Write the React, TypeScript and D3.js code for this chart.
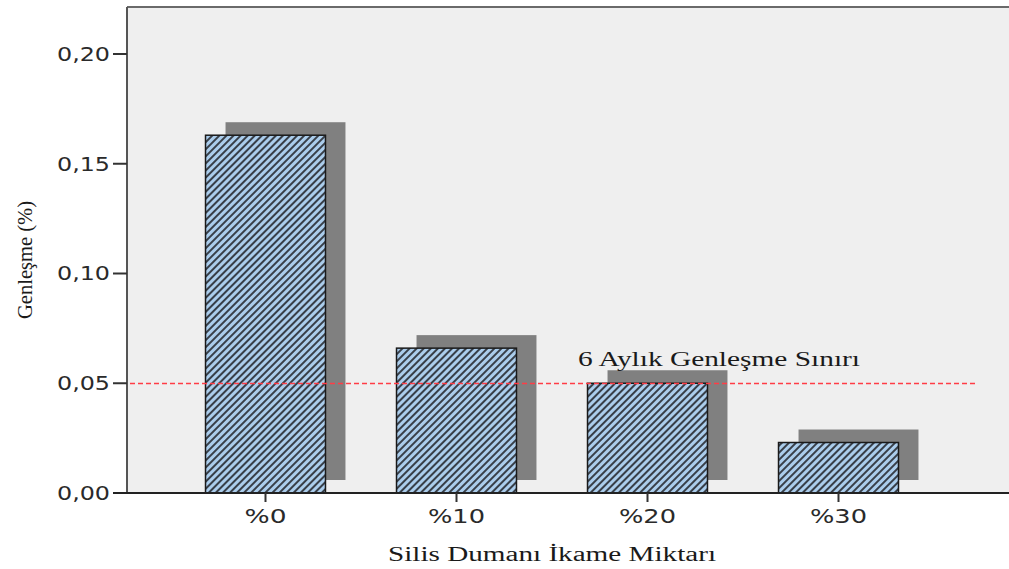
import React from "react";
import * as d3 from "d3";

// Replacement level of silica fume and measured expansion
const categories: string[] = ["%0", "%10", "%20", "%30"];
const expansion: number[] = [0.163, 0.066, 0.05, 0.023];
const yTicks: number[] = [0, 0.05, 0.1, 0.15, 0.2];
const limitValue = 0.05;
const limitLabel = "6 Aylık Genleşme Sınırı";
const xTitle = "Silis Dumanı İkame Miktarı";
const yTitle = "Genleşme (%)";

const W = 1009;
const H = 569;
const plotLeft = 127;
const plotTop = 7;
const plotBottom = 493;
const plotRight = W;

const x = d3.scaleBand<string>().domain(categories).range([170, 934]).paddingInner(0.372).paddingOuter(0.186);
const y = d3.scaleLinear().domain([0, 0.2]).range([plotBottom, 54]);
const fmt = (v: number) => d3.format(".2f")(v).replace(".", ",");

const shadowDx = 20;
const shadowDy = -13;

export default function App() {
  const limitY = Math.round(y(limitValue)) + 0.5;
  return (
    <svg width={W} height={H} style={{ position: "absolute", left: 0, top: 0, background: "#fff" }}>
      <defs>
        <pattern id="hatch" width={5} height={5} patternUnits="userSpaceOnUse" patternTransform="rotate(45)">
          <rect width={5} height={5} fill="#abcdec" />
          <line x1={1} y1={0} x2={1} y2={5} stroke="#2b2f36" strokeWidth={1.8} />
        </pattern>
      </defs>
      {/* plot background */}
      <rect x={plotLeft} y={plotTop} width={plotRight - plotLeft} height={plotBottom - plotTop} fill="#efefef" />
      <line x1={plotLeft} y1={plotTop} x2={plotRight} y2={plotTop} stroke="#6a6a6a" strokeWidth={2} />

      {/* shadows */}
      {categories.map((c, i) => (
        <rect
          key={"s" + c}
          x={(x(c) ?? 0) + shadowDx}
          y={y(expansion[i]) + shadowDy}
          width={x.bandwidth()}
          height={plotBottom - y(expansion[i])}
          fill="#808080"
        />
      ))}
      {/* bars */}
      {categories.map((c, i) => (
        <rect
          key={"b" + c}
          x={x(c) ?? 0}
          y={y(expansion[i])}
          width={x.bandwidth()}
          height={plotBottom - y(expansion[i])}
          fill="url(#hatch)"
          stroke="#1a1a1a"
          strokeWidth={1.5}
        />
      ))}

      {/* limit line */}
      <line x1={130} x2={975} y1={limitY} y2={limitY} stroke="#ff3c46" strokeWidth={1.5} strokeDasharray="5,3" />
      <text x={578} y={366} fontFamily="Liberation Serif" fontSize={20} fill="#1a1a1a" textLength={282} lengthAdjust="spacingAndGlyphs">
        {limitLabel}
      </text>

      {/* y axis */}
      <line x1={plotLeft} y1={plotTop} x2={plotLeft} y2={plotBottom} stroke="#555" strokeWidth={2} />
      {yTicks.map((t) => (
        <g key={t}>
          <line x1={113} x2={plotLeft} y1={y(t)} y2={y(t)} stroke="#333" strokeWidth={2} />
          <text x={110} y={y(t)} dy="0.36em" textAnchor="end" fontFamily="DejaVu Sans" fontSize={19} fill="#2a2a2a" textLength={53} lengthAdjust="spacingAndGlyphs">
            {fmt(t)}
          </text>
        </g>
      ))}

      {/* x axis */}
      <line x1={113} x2={plotRight} y1={plotBottom} y2={plotBottom} stroke="#222" strokeWidth={2} />
      {categories.map((c) => {
        const cx = (x(c) ?? 0) + x.bandwidth() / 2;
        return (
          <g key={"t" + c}>
            <line x1={cx} x2={cx} y1={plotBottom} y2={plotBottom + 9} stroke="#333" strokeWidth={2} />
            <text x={cx} y={523} textAnchor="middle" fontFamily="DejaVu Sans" fontSize={19} fill="#2a2a2a" textLength={c.length === 2 ? 42 : 57} lengthAdjust="spacingAndGlyphs">
              {c}
            </text>
          </g>
        );
      })}

      <text x={552} y={561} textAnchor="middle" fontFamily="Liberation Serif" fontSize={20} fill="#1a1a1a" textLength={328} lengthAdjust="spacingAndGlyphs">
        {xTitle}
      </text>
      <text transform="translate(32,260) rotate(-90)" textAnchor="middle" fontFamily="Liberation Serif" fontSize={22} fill="#1a1a1a" textLength={118} lengthAdjust="spacingAndGlyphs">
        {yTitle}
      </text>
    </svg>
  );
}
